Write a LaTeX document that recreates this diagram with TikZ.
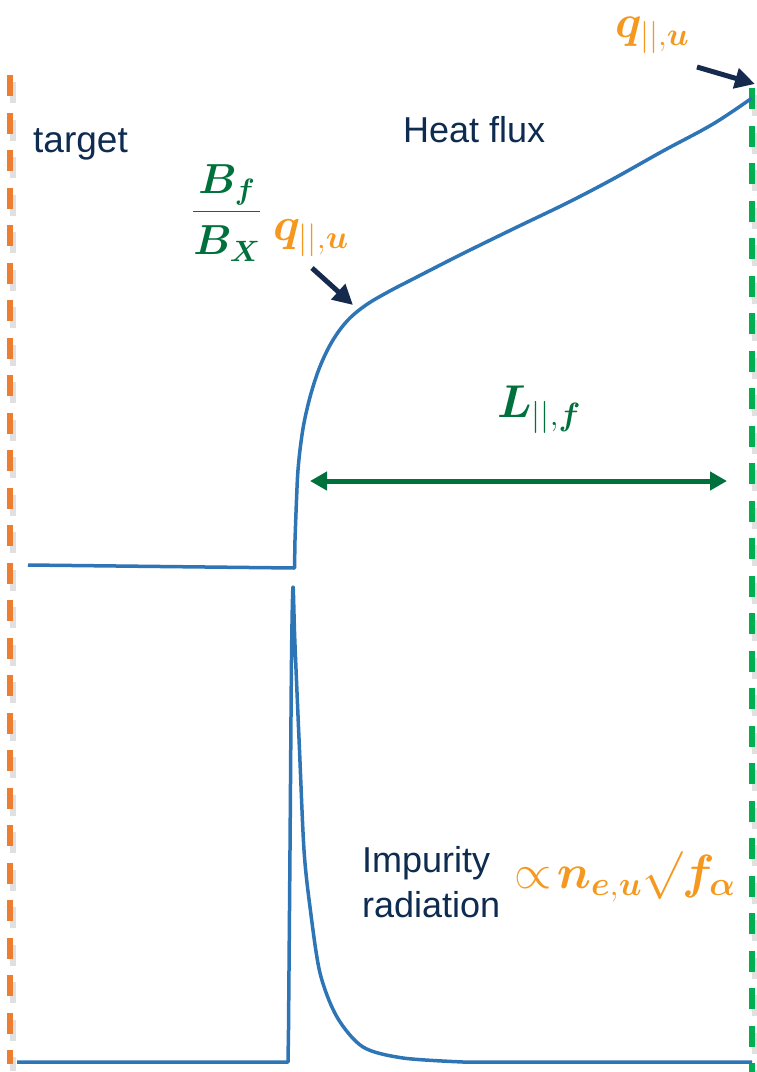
\RequirePackage{fix-cm}
\documentclass[tikz,border=0pt]{standalone}
\usepackage{amsmath,bm}
\usepackage{fontspec}
\newfontfamily\labelfont{Liberation Sans}
\usetikzlibrary{arrows.meta}
\definecolor{curveblue}{RGB}{46,117,182}
\definecolor{navyarrow}{RGB}{22,42,78}
\definecolor{txtnavy}{RGB}{14,43,80}
\definecolor{dorange}{RGB}{237,125,49}
\definecolor{lgreen}{RGB}{0,176,80}
\definecolor{mathorange}{RGB}{245,152,32}
\definecolor{mathgreen}{RGB}{0,112,60}
\tikzset{
  dashline/.style={line width=5.5pt, dash pattern=on 21pt off 16.5pt},
  shadowline/.style={line width=6pt, black, opacity=0.12, dash pattern=on 21pt off 16.5pt},
  curve/.style={line width=3.5pt, curveblue, line join=round},
  navyarr/.style={line width=5pt, navyarrow, -{Triangle[length=20pt,width=20pt]}},
  greenarr/.style={line width=5pt, mathgreen, {Triangle[length=17pt,width=18pt]}-{Triangle[length=17pt,width=18pt]}},
  lbl/.style={anchor=base west, inner sep=0pt, text=txtnavy, font=\labelfont\fontsize{36}{44}\selectfont},
  mathlbl/.style={anchor=base west, inner sep=0pt}
}
\begin{document}
\begin{tikzpicture}[x=1pt,y=-1pt]
\useasboundingbox (0,0) rectangle (756,1072);
% dashed boundary lines with soft shadow
\draw[shadowline] (13,82) -- (13,1071);
\draw[shadowline] (755,95) -- (755,1072);
\draw[dashline, dorange] (10,75) -- (10,1064);
\draw[dashline, lgreen] (752,88) -- (752,1072);
% heat flux curve
\draw[curve] (28,565) -- (294.5,568) -- plot[smooth, tension=0.6] coordinates {(295,540) (296.5,500) (298,470) (301,442) (305,418) (312,390) (321,364) (333,340) (348,320) (366,305) (388,292) (413,279) (460,255) (513,229) (567,203) (613,179) (663,151) (713,124) (752,98)};
% impurity radiation curve
\draw[curve] (17,1062) -- (288,1062) -- plot[smooth, tension=0.5] coordinates {(288.5,1030) (290,850) (291.5,660) (293,587) (294.8,640) (299.5,750) (304,850) (310,907) (320,973) (337,1017) (363,1047) (403,1058) (463,1062)} -- (752,1062);
% labels
\node[lbl, font=\labelfont\fontsize{37}{44}\selectfont] (target) at (33,152) {target};
\node[lbl] (heat) at (403,142) {Heat flux};
\node[lbl] (imp1) at (362,872) {Impurity};
\node[lbl] (imp2) at (362,917) {radiation};
% math labels
\node[mathlbl, text=mathorange, font=\fontsize{46}{54}\selectfont] (qtop) at (615,37) {$\bm{q}_{||,\bm{u}}$};
\node[mathlbl, text=mathgreen, font=\fontsize{42}{50}\selectfont] (bfrac) at (192,222) {$\dfrac{\bm{B}_{\bm{f}}\rule[-0.28em]{0pt}{0pt}}{\rule{0pt}{0.95em}\bm{B}_{\bm{X}}}$};
\node[mathlbl, text=mathorange, font=\fontsize{47}{55}\selectfont] (qmid) at (273,240) {$\bm{q}_{||,\bm{u}}$};
\node[mathlbl, text=mathgreen, font=\fontsize{46}{54}\selectfont] (Lf) at (497,417) {$\bm{L}_{||,\bm{f}}$};
\node[mathlbl, text=mathorange, font=\fontsize{48}{56}\selectfont] (prop) at (514,888) {$\propto\!\bm{n}_{\bm{e},\bm{u}}\surd\bm{f}_{\bm{\alpha}}$};
% arrows
\coordinate (a1s) at (697,67);
\coordinate (a1e) at (755,84);
\coordinate (a2s) at (312,268);
\coordinate (a2e) at (353,305);
\coordinate (Lleft) at (310,481);
\coordinate (Lright) at (727,481);
\draw[navyarr] (a1s) -- (a1e);
\draw[navyarr] (a2s) -- (a2e);
\draw[greenarr] (Lleft) -- (Lright);
\end{tikzpicture}
\end{document}
